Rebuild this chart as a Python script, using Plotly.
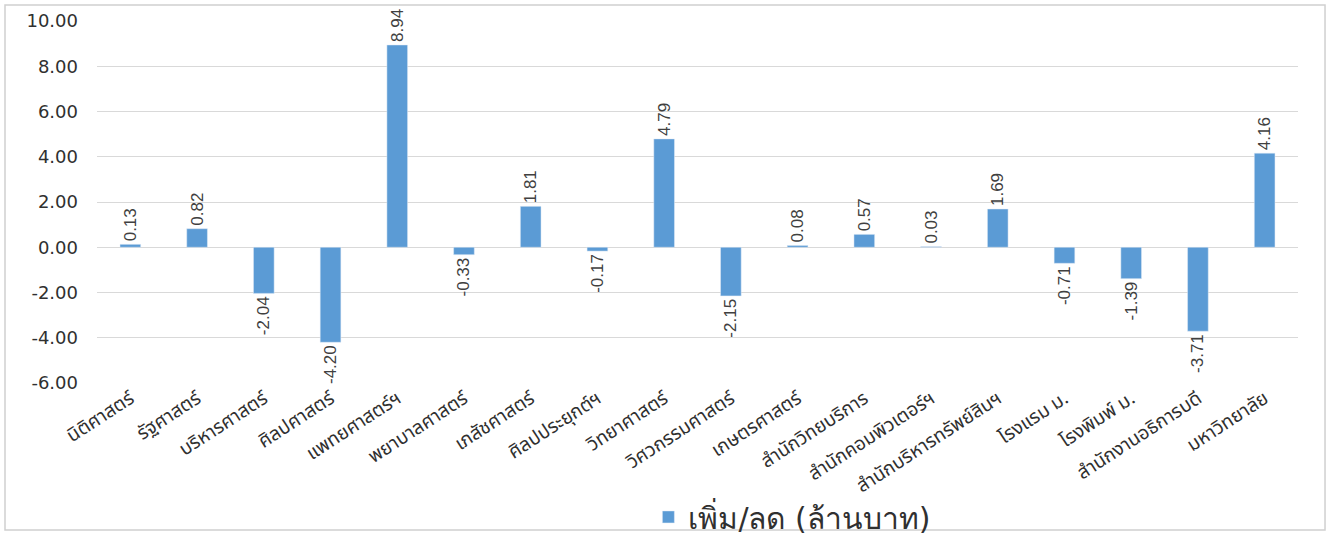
import plotly.graph_objects as go

categories = [
    "นิติศาสตร์", "รัฐศาสตร์", "บริหารศาสตร์", "ศิลปศาสตร์", "แพทยศาสตร์ฯ",
    "พยาบาลศาสตร์", "เภสัชศาสตร์", "ศิลปประยุกต์ฯ", "วิทยาศาสตร์", "วิศวกรรมศาสตร์",
    "เกษตรศาสตร์", "สำนักวิทยบริการ", "สำนักคอมพิวเตอร์ฯ", "สำนักบริหารทรัพย์สินฯ",
    "โรงแรม ม.", "โรงพิมพ์ ม.", "สำนักงานอธิการบดี", "มหาวิทยาลัย",
]
values = [0.13, 0.82, -2.04, -4.20, 8.94, -0.33, 1.81, -0.17, 4.79, -2.15,
          0.08, 0.57, 0.03, 1.69, -0.71, -1.39, -3.71, 4.16]
series_name = "เพิ่ม/ลด (ล้านบาท)"
y_ticks = [10, 8, 6, 4, 2, 0, -2, -4, -6]

fig = go.Figure()

fig.add_trace(go.Bar(
    x=categories,
    y=values,
    name=series_name,
    marker=dict(color="#5B9BD5"),
    text=[f"{v:.2f}" for v in values],
    textposition="outside",
    textangle=-90,
    constraintext="none",
    cliponaxis=False,
    textfont=dict(family="Liberation Sans Narrow, Arial Narrow, sans-serif", size=17, color="#404040"),
    showlegend=True,
))

fig.update_layout(
    width=1330,
    height=535,
    margin=dict(l=97, r=32, t=21, b=152, autoexpand=False),
    paper_bgcolor="white",
    plot_bgcolor="white",
    bargap=0.69,
    font=dict(family="DejaVu Sans, sans-serif", color="#404040"),
    xaxis=dict(
        tickangle=-33,
        tickfont=dict(family="Noto Sans Thai, Tahoma, sans-serif", size=19, color="#303030"),
        showgrid=False,
        showline=False,
        ticks="",
        automargin=False,
    ),
    yaxis=dict(
        range=[-6, 10],
        tickvals=y_ticks,
        ticktext=[f"{v:.2f}" for v in y_ticks],
        tickfont=dict(size=18, color="#303030"),
        ticklabelstandoff=18,
        showgrid=True,
        gridcolor="#d9d9d9",
        zeroline=True,
        zerolinecolor="#d9d9d9",
        zerolinewidth=1,
        ticks="",
        automargin=False,
    ),
    legend=dict(
        orientation="h",
        x=0.579,
        xanchor="center",
        y=-0.37,
        yanchor="middle",
        bgcolor="rgba(0,0,0,0)",
        font=dict(size=30, color="#303030"),
    ),
    shapes=[dict(
        type="rect", xref="paper", yref="paper",
        x0=-0.0766, x1=1.0225, y0=-0.406, y1=1.044,
        line=dict(color="#d0d0d0", width=1.5),
        fillcolor="rgba(0,0,0,0)",
    )],
)

fig.write_html(
    "out.html",
    config={"displayModeBar": False},
    post_script="document.body.style.margin='0';",
)
